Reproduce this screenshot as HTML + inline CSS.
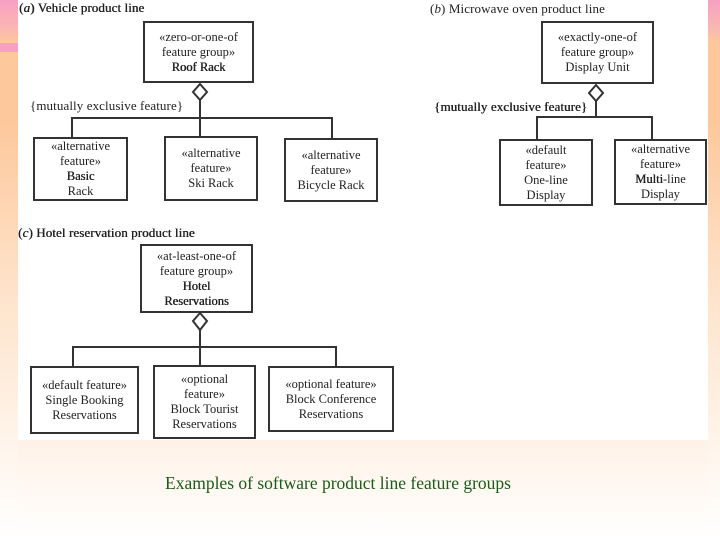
<!DOCTYPE html>
<html><head><meta charset="utf-8"><style>
body{margin:0;width:720px;height:540px;overflow:hidden;position:relative;font-family:"Liberation Serif",serif;
background:linear-gradient(to bottom,#fdd0a8 0px,#fde0c8 300px,#fff6ee 470px,#ffffff 540px);}
.side{position:absolute;top:0;height:540px;background:linear-gradient(to bottom,#f8a0c4 0px,#fbb8b0 30px,#fdc89c 42px,#fdc89c 120px,#fee4cc 300px,#fff4ea 440px,#fff 540px);}
.band{position:absolute;height:9px;top:43px;background:#f6a0c8;}
#white{position:absolute;left:18px;top:0;width:690px;height:440px;background:#fff;}
.t{position:absolute;font-size:13px;color:#222;white-space:nowrap;letter-spacing:0.1px}
.b{position:absolute;border:2px solid #333;background:#fff;box-sizing:border-box;display:flex;justify-content:center;align-items:center;text-align:center;font-size:12.5px;line-height:15px;color:#222;}
.b div{display:block;white-space:nowrap}
.s{text-shadow:0.4px 0 0 #222}
svg{position:absolute;left:0;top:0}
</style></head><body>
<div class="side" style="left:0;width:18px"></div>
<div class="side" style="left:708px;width:12px"></div>
<div class="band" style="left:0;width:18px"></div>
<div id="white"></div>
<svg width="720" height="540">
<g stroke="#333" stroke-width="2" fill="#fff">
<line x1="200" y1="100" x2="200" y2="137"/><polyline points="72,137 72,118 332,118 332,138" fill="none"/>
<polygon points="200,84 207,92 200,100 193,92"/>
<line x1="596" y1="101" x2="596" y2="117"/><polyline points="537,139 537,117 652,117 652,139" fill="none"/>
<polygon points="596,85 603,93 596,101 589,93"/>
<line x1="200" y1="330" x2="200" y2="365"/><polyline points="73,366 73,347 336,347 336,366" fill="none"/>
<polygon points="200,313 207,321 200,330 193,321"/>
</g></svg>
<div class="t" style="left:19px;top:0px"><span class="s">(<i>a</i>) Vehicle product line</span></div>
<div class="t" style="left:430px;top:1px">(<i>b</i>) Microwave oven product line</div>
<div class="t" style="left:18px;top:225px"><span class="s">(<i>c</i>) Hotel reservation product line</span></div>
<div class="t" style="left:30px;top:98px">{mutually exclusive feature}</div>
<div class="t" style="left:434px;top:99px"><span class="s">{mutually exclusive feature}</span></div>
<div class="b" style="left:143px;top:21px;width:111px;height:62px"><div>«zero-or-one-of<br>feature group»<br><span class="s">Roof Rack</span></div></div>
<div class="b" style="left:33px;top:137px;width:95px;height:64px"><div>«alternative<br>feature»<br><span class="s">Basic</span><br>Rack</div></div>
<div class="b" style="left:164px;top:136px;width:94px;height:65px"><div>«alternative<br>feature»<br>Ski Rack</div></div>
<div class="b" style="left:284px;top:138px;width:94px;height:64px"><div>«alternative<br>feature»<br>Bicycle Rack</div></div>
<div class="b" style="left:541px;top:21px;width:113px;height:63px"><div>«exactly-one-of<br>feature group»<br>Display Unit</div></div>
<div class="b" style="left:499px;top:139px;width:94px;height:67px"><div>«default<br>feature»<br>One-line<br>Display</div></div>
<div class="b" style="left:614px;top:139px;width:93px;height:66px"><div>«alternative<br>feature»<br><span class="s">Multi</span>-line<br>Display</div></div>
<div class="b" style="left:140px;top:244px;width:113px;height:69px"><div>«at-least-one-of<br>feature group»<br><span class="s">Hotel</span><br><span class="s">Reservations</span></div></div>
<div class="b" style="left:30px;top:366px;width:109px;height:68px"><div>«default feature»<br>Single Booking<br>Reservations</div></div>
<div class="b" style="left:153px;top:365px;width:103px;height:74px"><div>«optional<br>feature»<br>Block Tourist<br>Reservations</div></div>
<div class="b" style="left:268px;top:366px;width:126px;height:66px"><div>«optional feature»<br>Block Conference<br>Reservations</div></div>
<div class="t" style="left:165px;top:473px;font-size:17.5px;color:#1a5a1a;letter-spacing:0">Examples of software product line feature groups</div>
</body></html>
